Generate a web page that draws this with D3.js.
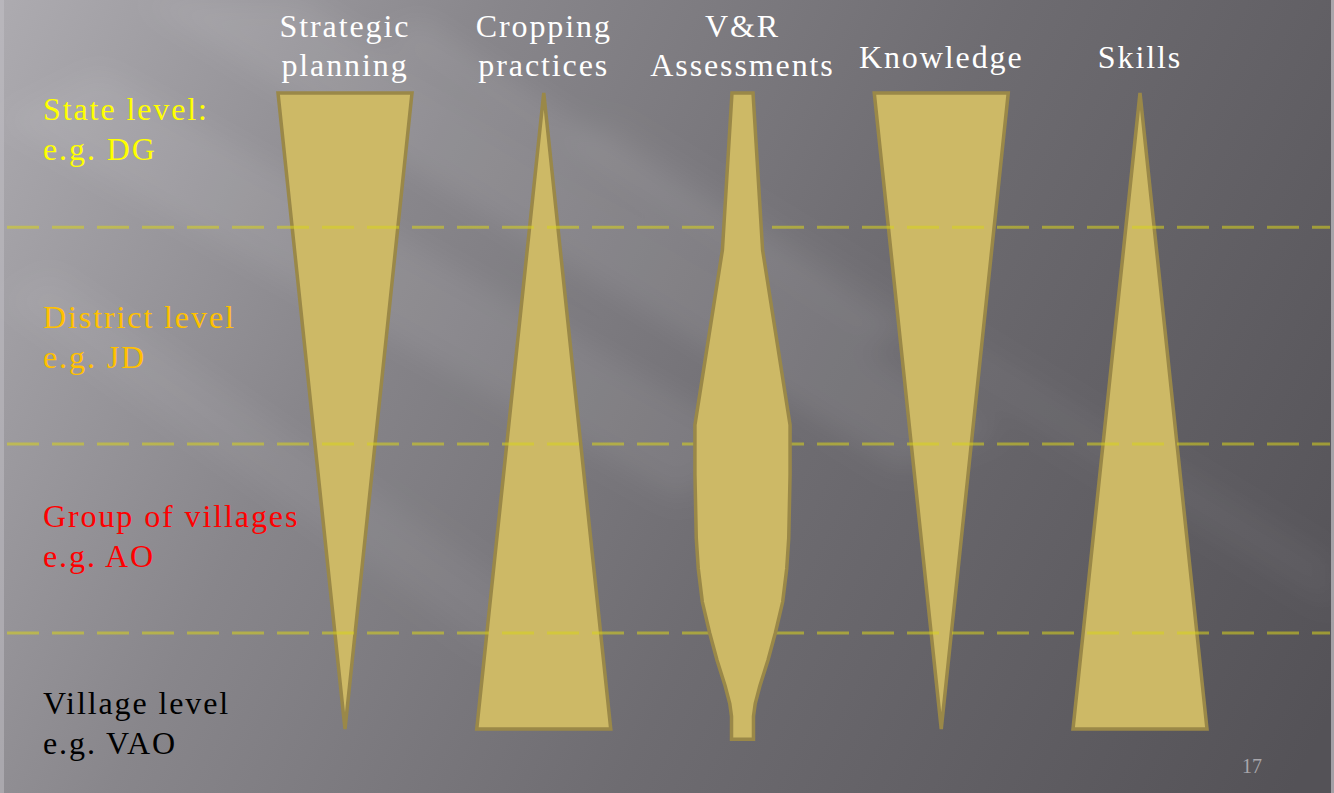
<!DOCTYPE html>
<html>
<head>
<meta charset="utf-8">
<script src="https://cdn.jsdelivr.net/npm/d3@7"></script>
<style>
  html, body { margin: 0; padding: 0; background: #7a787d; }
  svg { display: block; }
</style>
</head>
<body>
<div id="slide"></div>
<script>
// columns (capabilities) and their header lines
const columns = ["Strategic planning", "Cropping practices", "V&R Assessments", "Knowledge", "Skills"];
const headerLines = [["Strategic", "planning"], ["Cropping", "practices"], ["V&R", "Assessments"], ["Knowledge"], ["Skills"]];

// administrative levels (top to bottom)
const levelNames = ["State level:", "District level", "Group of villages", "Village level"];
const levelExamples = ["e.g. DG", "e.g. JD", "e.g. AO", "e.g. VAO"];
const levelColors = ["#ffff00", "#ffc000", "#ff0000", "#000000"];

// depth (0 = state top, 1 = village bottom) where one level meets the next
const levelBreaks = [0.211, 0.552, 0.849];

// relative width of each capability along the depth axis: [depth, width]
const strategicProfile = [[0, 1], [1, 0]];
const croppingProfile = [[0, 0], [1, 1]];
const vrProfile = [[0, 0.157], [0.247, 0.3], [0.522, 0.71], [0.60, 0.71], [0.70, 0.69],
  [0.748, 0.66], [0.80, 0.60], [0.849, 0.49], [0.892, 0.38], [0.932, 0.26],
  [0.96, 0.19], [0.98, 0.164], [1.016, 0.164]];
const knowledgeProfile = [[0, 1], [1, 0]];
const skillsProfile = [[0, 0], [1, 1]];
const profiles = [strategicProfile, croppingProfile, vrProfile, knowledgeProfile, skillsProfile];

const pageNumber = "17";

(function drawSlide() {
  const config = { width: 1334, height: 793, font: "'Liberation Serif', 'DejaVu Serif', serif" };
  const { width, height } = config;

  const svg = d3.select("#slide").append("svg")
    .attr("width", width)
    .attr("height", height);

  // background
  const defs = svg.append("defs");
  const bg = defs.append("linearGradient").attr("id", "bg")
    .attr("gradientUnits", "userSpaceOnUse")
    .attr("x1", 0).attr("y1", 0).attr("x2", 1350).attr("y2", 675);
  bg.append("stop").attr("offset", "0%").attr("stop-color", "#adabb0");
  bg.append("stop").attr("offset", "30%").attr("stop-color", "#88868b");
  bg.append("stop").attr("offset", "60%").attr("stop-color", "#6e6c71");
  bg.append("stop").attr("offset", "100%").attr("stop-color", "#545257");
  defs.append("filter").attr("id", "blur")
    .attr("x", "-20%").attr("y", "-20%").attr("width", "140%").attr("height", "140%")
    .append("feGaussianBlur").attr("stdDeviation", 14);

  svg.append("rect").attr("width", width).attr("height", height).attr("fill", "url(#bg)");

  const streaks = [
    { pts: [[140, 0], [300, 0], [1000, 430], [900, 470]], op: 0.08 },
    { pts: [[0, 120], [100, 70], [760, 440], [680, 500]], op: 0.07 },
    { pts: [[380, 40], [420, 20], [900, 330], [870, 350]], op: 0.08 },
    { pts: [[0, 300], [50, 270], [560, 620], [490, 650]], op: 0.05 },
    { pts: [[560, 140], [610, 120], [1334, 560], [1334, 610]], op: 0.04 }
  ];
  svg.append("g").attr("filter", "url(#blur)")
    .selectAll("polygon").data(streaks).join("polygon")
    .attr("points", d => d.pts.join(" "))
    .attr("fill", "#ffffff")
    .attr("opacity", d => d.op);

  svg.append("rect").attr("x", 0).attr("y", 0).attr("width", 4).attr("height", height)
    .attr("fill", "#c4c2c7").attr("opacity", 0.5);
  svg.append("rect").attr("x", width - 3).attr("y", 0).attr("width", 3).attr("height", height)
    .attr("fill", "#d8d6db").attr("opacity", 0.6);

  // scales
  const x = d3.scalePoint().domain(columns).range([345, 1140]);
  const y = d3.scaleLinear().domain([0, 1]).range([93, 729]);
  const w = d3.scaleLinear().domain([0, 1]).range([0, 134]);

  const shapeData = columns.map((c, i) => ({ name: c, profile: profiles[i], front: i === 2 }));

  const drawShape = (sel) => sel
    .attr("d", d => {
      const cx = x(d.name);
      return d3.area()
        .y(p => y(p[0]))
        .x0(p => cx - w(p[1]) / 2)
        .x1(p => cx + w(p[1]) / 2)
        .curve(d3.curveLinear)(d.profile);
    })
    .attr("fill", "#cdb966")
    .attr("stroke", "#9a8848")
    .attr("stroke-width", 3.5)
    .attr("stroke-linejoin", "miter");

  // triangles sit under the dashed level lines
  svg.append("g").selectAll("path").data(shapeData.filter(d => !d.front)).join("path")
    .call(drawShape);

  svg.append("g").selectAll("line").data(levelBreaks).join("line")
    .attr("x1", 7).attr("x2", width - 4)
    .attr("y1", d => y(d)).attr("y2", d => y(d))
    .attr("stroke", "#d8d41c")
    .attr("stroke-opacity", 0.55)
    .attr("stroke-width", 3)
    .attr("stroke-dasharray", "32 13");

  // V&R shape drawn over the lines
  svg.append("g").selectAll("path").data(shapeData.filter(d => d.front)).join("path")
    .call(drawShape);

  // column headers
  const headers = svg.append("g")
    .attr("font-family", config.font)
    .attr("font-size", 32)
    .attr("letter-spacing", 1.9)
    .attr("fill", "#ffffff")
    .attr("text-anchor", "middle");
  headers.selectAll("text").data(columns).join("text")
    .attr("x", d => x(d))
    .attr("y", (d, i) => headerLines[i].length === 2 ? 37 : 68)
    .each(function (d, i) {
      d3.select(this).selectAll("tspan").data(headerLines[i]).join("tspan")
        .attr("x", x(d))
        .attr("dy", (t, j) => j === 0 ? 0 : 39)
        .text(t => t);
    });

  // level labels
  const labelBaselines = [120, 328, 527, 714];
  const labels = svg.append("g")
    .attr("font-family", config.font)
    .attr("font-size", 32)
    .attr("letter-spacing", 1.9);
  labels.selectAll("text").data(levelNames).join("text")
    .attr("x", 43)
    .attr("y", (d, i) => labelBaselines[i])
    .attr("fill", (d, i) => levelColors[i])
    .each(function (d, i) {
      d3.select(this).selectAll("tspan").data([d, levelExamples[i]]).join("tspan")
        .attr("x", 43)
        .attr("dy", (t, j) => j === 0 ? 0 : 40)
        .text(t => t);
    });

  svg.append("text")
    .attr("x", 1252).attr("y", 773)
    .attr("text-anchor", "middle")
    .attr("font-family", config.font)
    .attr("font-size", 20)
    .attr("fill", "#a8a6ab")
    .text(pageNumber);
})();
</script>
</body>
</html>
